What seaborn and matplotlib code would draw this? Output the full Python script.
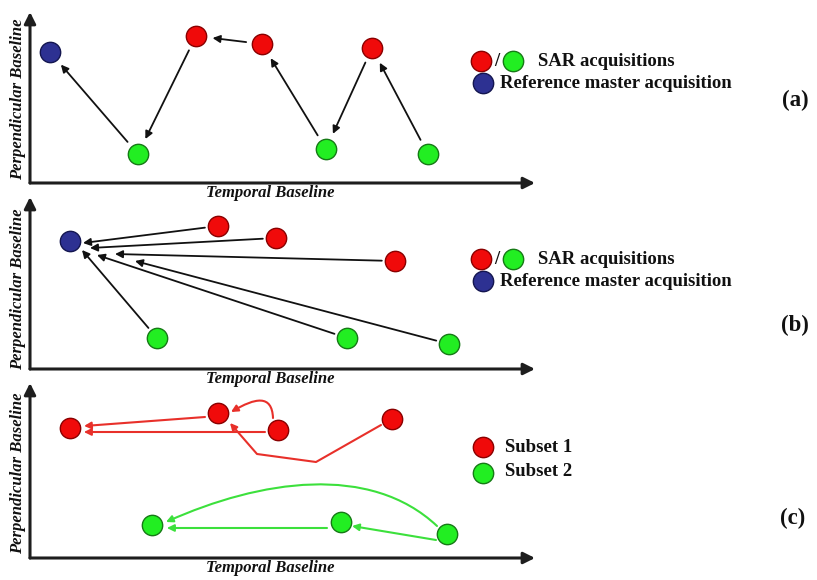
import matplotlib
matplotlib.use("Agg")
import matplotlib.pyplot as plt
import seaborn as sns
import pandas as pd
from matplotlib.path import Path
from matplotlib.patches import FancyArrowPatch

sns.set_theme(style="white")
plt.rcParams["font.family"] = ["Liberation Serif", "DejaVu Serif"]

# ---------------------------------------------------------------------------
# Acquisition positions (temporal baseline, perpendicular baseline), in pixels
# measured from each panel's axis origin
# ---------------------------------------------------------------------------
# (a) sequential chain of small-baseline pairs
a_t = [20, 108, 166, 232, 296, 342, 398]
a_b = [131, 29, 147, 139, 34, 135, 29]
a_role = ["master", "green", "red", "red", "green", "red", "green"]
a_links = [(1, 0), (2, 1), (3, 2), (4, 3), (5, 4), (6, 5)]  # (from, to)

# (b) every acquisition paired with a single reference master
b_t = [40, 188, 246, 365, 127, 317, 419]
b_b = [128, 143, 131, 108, 31, 31, 25]
b_role = ["master", "red", "red", "red", "green", "green", "green"]
b_sources = [1, 2, 3, 4, 5, 6]
b_tip_t = [53, 60, 85, 52, 67, 105]
b_tip_b = [126, 121, 115, 119, 114, 108]

# (c) two independent subsets
c_t = [40, 188, 248, 362, 122, 311, 417]
c_b = [130, 145, 128, 139, 33, 36, 24]
c_role = ["red", "red", "red", "red", "green", "green", "green"]

# connection routes of panel (c): (subset, kind, vertices)
c_routes = [
    ("red", "line", [(175, 141), (54, 132)]),
    ("red", "line", [(235, 126), (54, 126)]),
    ("red", "curve", [(243, 140), (242, 164), (225, 160), (201, 146)]),
    ("red", "line", [(351, 133), (286, 96), (227, 104), (200, 135)]),
    ("green", "curve", [(407, 32), (340, 95), (230, 78), (136, 36)]),
    ("green", "line", [(297, 30), (137, 30)]),
    ("green", "line", [(406, 18), (322, 32)]),
]

fill = {"red": "#f00a0a", "green": "#22ee22", "master": "#2d3192"}
edge = {"red": "#8a0000", "green": "#167a16", "master": "#141650"}
route_color = {"red": "#e8302a", "green": "#3ce03c"}

W, H = 817, 580
fig = plt.figure(figsize=(W / 100, H / 100), dpi=100)
fig.patch.set_facecolor("white")

# panel frames: (origin_y in px, height of y axis in px)
panels = [(183, 171), (369, 172), (558, 175)]
x0, xlen = 30, 505
axes = []
for oy, h in panels:
    ax = fig.add_axes([x0 / W, (H - oy) / H, xlen / W, h / H])
    ax.set_xlim(0, xlen)
    ax.set_ylim(0, h)
    ax.set_axis_off()
    ax.patch.set_alpha(0)
    for xy in [(1, 0), (0, 1)]:
        ax.annotate("", xy=xy, xytext=(0, 0), xycoords="axes fraction",
                    arrowprops=dict(arrowstyle="-|>", color="#1e1e1e", lw=2.2,
                                    mutation_scale=17, shrinkA=0, shrinkB=0),
                    annotation_clip=False)
    axes.append(ax)


def draw_points(ax, t, b, role):
    df = pd.DataFrame({"t": t, "b": b, "role": role})
    for r, sub in df.groupby("role"):
        sns.scatterplot(data=sub, x="t", y="b", color=fill[r], edgecolor=edge[r],
                        linewidth=1.0, s=215, ax=ax, zorder=5, legend=False)
    ax.set_axis_off()


arrow_kw = dict(arrowstyle="-|>", color="#111111", lw=1.3, mutation_scale=11)

# (a)
ax = axes[0]
for i, j in a_links:
    ax.annotate("", xy=(a_t[j], a_b[j]), xytext=(a_t[i], a_b[i]),
                arrowprops=dict(shrinkA=11.5, shrinkB=12, **arrow_kw))
draw_points(ax, a_t, a_b, a_role)

# (b)
ax = axes[1]
for k, i in enumerate(b_sources):
    ax.annotate("", xy=(b_tip_t[k], b_tip_b[k]), xytext=(b_t[i], b_b[i]),
                arrowprops=dict(shrinkA=9.5, shrinkB=0, **arrow_kw))
draw_points(ax, b_t, b_b, b_role)

# (c)
ax = axes[2]
for subset, kind, verts in c_routes:
    if kind == "curve":
        codes = [Path.MOVETO, Path.CURVE4, Path.CURVE4, Path.CURVE4]
    else:
        codes = [Path.MOVETO] + [Path.LINETO] * (len(verts) - 1)
    patch = FancyArrowPatch(path=Path(verts, codes), arrowstyle="-|>",
                            mutation_scale=10, lw=1.5, color=route_color[subset],
                            transform=ax.transData, zorder=3)
    ax.add_patch(patch)
draw_points(ax, c_t, c_b, c_role)
for ax in axes:
    ax.set_xlim(0, xlen)

# axis titles
label_font = dict(fontsize=12, fontweight="bold", fontstyle="italic", color="#111111")
for yc in [193, 379, 568]:
    fig.text(270 / W, 1 - yc / H, "Temporal Baseline", ha="center", va="center", **label_font)
for yc in [99, 289, 473]:
    fig.text(18 / W, 1 - yc / H, "Perpendicular Baseline", ha="center", va="center",
             rotation=90, **label_font)

# keys and panel letters
ov = fig.add_axes([0, 0, 1, 1])
ov.set_xlim(0, W)
ov.set_ylim(H, 0)
ov.set_axis_off()
ov.patch.set_alpha(0)

key_font = dict(fontsize=13.5, fontweight="bold", color="#111111", va="center")
key_marks_x = [481, 513, 483]
for ytop in [61, 259]:
    ybot = ytop + 22
    keys = pd.DataFrame({"x": key_marks_x, "y": [ytop, ytop, ybot],
                         "role": ["red", "green", "master"]})
    for r, sub in keys.groupby("role"):
        sns.scatterplot(data=sub, x="x", y="y", color=fill[r], edgecolor=edge[r],
                        linewidth=1.0, s=215, ax=ov, legend=False, zorder=5)
    ov.text(497, ytop, "/", ha="center", **key_font)
    ov.text(538, ytop + 1, "SAR acquisitions", ha="left", **key_font)
    ov.text(500, ybot + 1, "Reference master acquisition", ha="left", **key_font)

subset_keys = pd.DataFrame({"x": [483, 483], "y": [447, 473], "role": ["red", "green"]})
for r, sub in subset_keys.groupby("role"):
    sns.scatterplot(data=sub, x="x", y="y", color=fill[r], edgecolor=edge[r],
                    linewidth=1.0, s=215, ax=ov, legend=False, zorder=5)
ov.text(505, 447, "Subset 1", ha="left", **key_font)
ov.text(505, 472, "Subset 2", ha="left", **key_font)

for letter, (lx, ly) in zip(["(a)", "(b)", "(c)"], [(795, 100), (795, 325), (793, 518)]):
    ov.text(lx, ly, letter, ha="center", va="center", fontsize=16.5,
            fontweight="bold", color="#111111")
ov.set_xlim(0, W)
ov.set_ylim(H, 0)
ov.set_axis_off()

fig.savefig("out.png", dpi=100, facecolor="white")
